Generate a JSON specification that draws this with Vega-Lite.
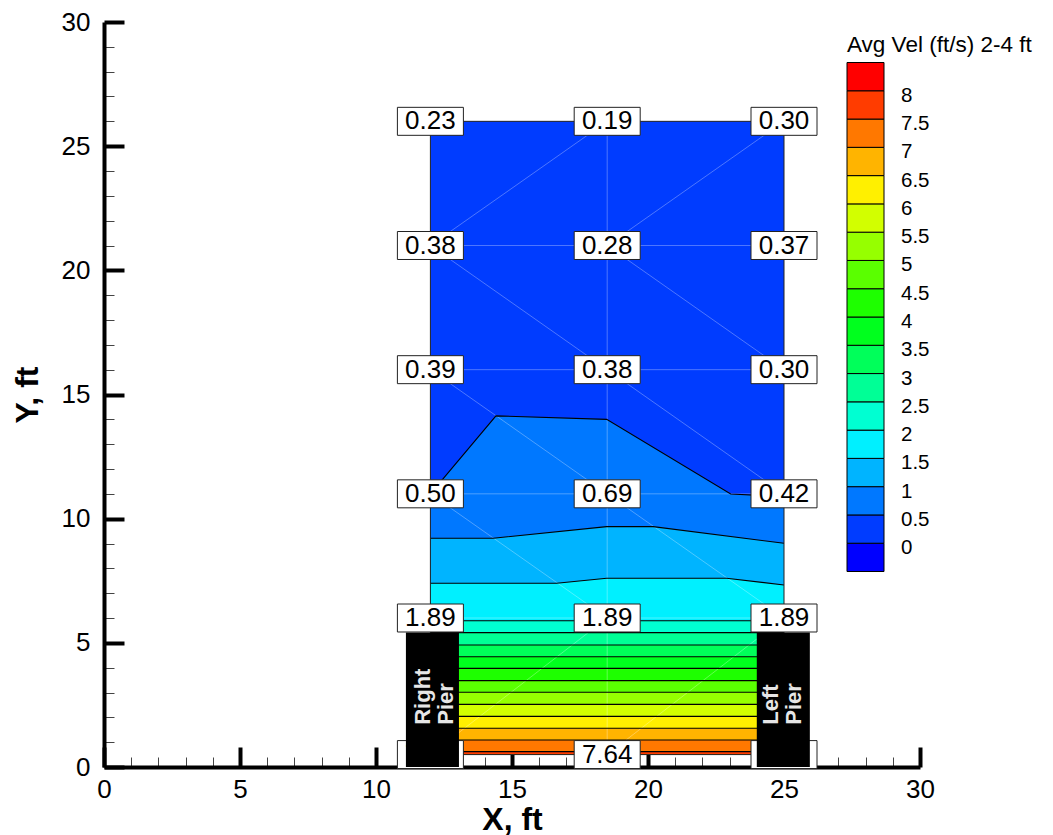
{
  "$schema": "https://vega.github.io/schema/vega-lite/v6.json",
  "width": 816,
  "height": 745,
  "autosize": "none",
  "padding": {"left": 104, "top": 22, "right": 133, "bottom": 68},
  "background": "white",
  "config": {
    "font": "Liberation Sans",
    "view": {"stroke": null},
    "axis": {"grid": false}
  },
  "resolve": {"axis": {"x": "independent", "y": "independent"}},
  "datasets": {
    "contours": [
      {"lev": 0, "mid": 0.25, "x": 12, "y": 26},
      {"lev": 0, "mid": 0.25, "x": 25, "y": 26},
      {"lev": 0.5, "mid": 0.75, "x": 12, "y": 11.0},
      {"lev": 0.5, "mid": 0.75, "x": 14.41, "y": 14.14},
      {"lev": 0.5, "mid": 0.75, "x": 18.48, "y": 14.0},
      {"lev": 0.5, "mid": 0.75, "x": 23.04, "y": 10.99},
      {"lev": 0.5, "mid": 0.75, "x": 25, "y": 10.89},
      {"lev": 1, "mid": 1.25, "x": 12, "y": 9.21},
      {"lev": 1, "mid": 1.25, "x": 14.31, "y": 9.21},
      {"lev": 1, "mid": 1.25, "x": 18.48, "y": 9.68},
      {"lev": 1, "mid": 1.25, "x": 20.19, "y": 9.68},
      {"lev": 1, "mid": 1.25, "x": 25, "y": 9.01},
      {"lev": 1.5, "mid": 1.75, "x": 12, "y": 7.40},
      {"lev": 1.5, "mid": 1.75, "x": 16.64, "y": 7.40},
      {"lev": 1.5, "mid": 1.75, "x": 18.48, "y": 7.60},
      {"lev": 1.5, "mid": 1.75, "x": 22.89, "y": 7.60},
      {"lev": 1.5, "mid": 1.75, "x": 25, "y": 7.33},
      {"lev": 2, "mid": 2.25, "x": 12, "y": 5.89},
      {"lev": 2, "mid": 2.25, "x": 25, "y": 5.89},
      {"lev": 2.5, "mid": 2.75, "x": 12, "y": 5.41},
      {"lev": 2.5, "mid": 2.75, "x": 25, "y": 5.41},
      {"lev": 3, "mid": 3.25, "x": 12, "y": 4.91},
      {"lev": 3, "mid": 3.25, "x": 25, "y": 4.91},
      {"lev": 3.5, "mid": 3.75, "x": 12, "y": 4.44},
      {"lev": 3.5, "mid": 3.75, "x": 25, "y": 4.44},
      {"lev": 4, "mid": 4.25, "x": 12, "y": 3.97},
      {"lev": 4, "mid": 4.25, "x": 25, "y": 3.97},
      {"lev": 4.5, "mid": 4.75, "x": 12, "y": 3.48},
      {"lev": 4.5, "mid": 4.75, "x": 25, "y": 3.48},
      {"lev": 5, "mid": 5.25, "x": 12, "y": 3.01},
      {"lev": 5, "mid": 5.25, "x": 25, "y": 3.01},
      {"lev": 5.5, "mid": 5.75, "x": 12, "y": 2.52},
      {"lev": 5.5, "mid": 5.75, "x": 25, "y": 2.52},
      {"lev": 6, "mid": 6.25, "x": 12, "y": 2.04},
      {"lev": 6, "mid": 6.25, "x": 25, "y": 2.04},
      {"lev": 6.5, "mid": 6.75, "x": 12, "y": 1.56},
      {"lev": 6.5, "mid": 6.75, "x": 25, "y": 1.56},
      {"lev": 7, "mid": 7.25, "x": 12, "y": 1.09},
      {"lev": 7, "mid": 7.25, "x": 25, "y": 1.09},
      {"lev": 7.5, "mid": 7.75, "x": 12, "y": 0.62},
      {"lev": 7.5, "mid": 7.75, "x": 25, "y": 0.62}
    ],
    "mesh": [
      {"x": 12, "y": 21, "x2": 25, "y2": 21},
      {"x": 12, "y": 16, "x2": 25, "y2": 16},
      {"x": 12, "y": 11, "x2": 25, "y2": 11},
      {"x": 12, "y": 6, "x2": 25, "y2": 6},
      {"x": 18.5, "y": 0.5, "x2": 18.5, "y2": 26},
      {"x": 12, "y": 21, "x2": 18.5, "y2": 26},
      {"x": 18.5, "y": 21, "x2": 25, "y2": 26},
      {"x": 12, "y": 21, "x2": 18.5, "y2": 16},
      {"x": 18.5, "y": 21, "x2": 25, "y2": 16},
      {"x": 12, "y": 16, "x2": 18.5, "y2": 11},
      {"x": 18.5, "y": 16, "x2": 25, "y2": 11},
      {"x": 12, "y": 11, "x2": 18.5, "y2": 6},
      {"x": 18.5, "y": 11, "x2": 25, "y2": 6},
      {"x": 12, "y": 0.5, "x2": 18.5, "y2": 6},
      {"x": 18.5, "y": 0.5, "x2": 25, "y2": 6}
    ],
    "domainbox": [{"x": 12, "x2": 25, "y": 0.5, "y2": 26}],
    "labels": [
      {"x": 12, "y": 26, "t": "0.23"}, {"x": 18.5, "y": 26, "t": "0.19"}, {"x": 25, "y": 26, "t": "0.30"},
      {"x": 12, "y": 21, "t": "0.38"}, {"x": 18.5, "y": 21, "t": "0.28"}, {"x": 25, "y": 21, "t": "0.37"},
      {"x": 12, "y": 16, "t": "0.39"}, {"x": 18.5, "y": 16, "t": "0.38"}, {"x": 25, "y": 16, "t": "0.30"},
      {"x": 12, "y": 11, "t": "0.50"}, {"x": 18.5, "y": 11, "t": "0.69"}, {"x": 25, "y": 11, "t": "0.42"},
      {"x": 12, "y": 6, "t": "1.89"}, {"x": 18.5, "y": 6, "t": "1.89"}, {"x": 25, "y": 6, "t": "1.89"},
      {"x": 12, "y": 0.5, "t": "7.60"}, {"x": 18.5, "y": 0.5, "t": "7.64"}, {"x": 25, "y": 0.5, "t": "7.58"}
    ],
    "piers": [
      {"x": 11.1, "x2": 13.05, "y": 0, "y2": 5.42},
      {"x": 24.0, "x2": 25.95, "y": 0, "y2": 5.42}
    ],
    "piertext": [
      {"x": 11.73, "y": 1.7, "name": "Right\nPier"},
      {"x": 24.52, "y": 1.7, "name": "Left\nPier"}
    ]
  },
  "layer": [
    {
      "data": {"name": "contours"},
      "mark": {"type": "area", "interpolate": "linear"},
      "encoding": {
        "x": {
          "field": "x", "type": "quantitative",
          "scale": {"domain": [0, 30], "nice": false, "zero": false},
          "axis": {
            "orient": "bottom",
            "values": [0,1,2,3,4,5,6,7,8,9,10,11,12,13,14,15,16,17,18,19,20,21,22,23,24,25,26,27,28,29,30],
            "title": "X, ft", "titleFontSize": 32, "titleFontWeight": "bold", "titleColor": "black", "titlePadding": -8,
            "domainColor": "black", "domainWidth": 4,
            "tickColor": {"condition": {"test": "datum.value % 5 === 0", "value": "black"}, "value": "#444"},
            "tickSize": {"condition": {"test": "datum.value % 5 === 0", "value": -20}, "value": -10},
            "tickWidth": {"condition": {"test": "datum.value % 5 === 0", "value": 4}, "value": 1},
            "labelExpr": "datum.value % 5 === 0 ? datum.label : ''",
            "labelFontSize": 26, "labelColor": "black", "labelPadding": 29,
            "labelFlush": false, "labelOverlap": false, "grid": false
          }
        },
        "y": {
          "field": "y", "type": "quantitative", "stack": null,
          "scale": {"domain": [0, 30], "nice": false, "zero": false},
          "axis": {
            "orient": "left",
            "values": [0,1,2,3,4,5,6,7,8,9,10,11,12,13,14,15,16,17,18,19,20,21,22,23,24,25,26,27,28,29,30],
            "title": "Y, ft", "titleFontSize": 32, "titleFontWeight": "bold", "titleColor": "black", "titlePadding": 17,
            "domainColor": "black", "domainWidth": 4,
            "tickColor": {"condition": {"test": "datum.value % 5 === 0", "value": "black"}, "value": "#444"},
            "tickSize": {"condition": {"test": "datum.value % 5 === 0", "value": -20}, "value": -10},
            "tickWidth": {"condition": {"test": "datum.value % 5 === 0", "value": 4}, "value": 1},
            "labelExpr": "datum.value % 5 === 0 ? datum.label : ''",
            "labelFontSize": 26, "labelColor": "black", "labelPadding": 34,
            "labelFlush": false, "labelOverlap": false, "grid": false
          }
        },
        "y2": {"datum": 0.5},
        "detail": {"field": "lev"},
        "color": {
          "field": "mid", "type": "quantitative",
          "scale": {
            "type": "threshold",
            "domain": [0, 0.5, 1, 1.5, 2, 2.5, 3, 3.5, 4, 4.5, 5, 5.5, 6, 6.5, 7, 7.5, 8],
            "range": ["#0000ff","#003cff","#0078ff","#00b4ff","#00f0ff","#00ffd2","#00ff96","#00ff5a","#00ff1e","#1eff00","#5aff00","#96ff00","#d2ff00","#fff000","#ffb400","#ff7800","#ff3c00","#ff0000"]
          },
          "legend": {
            "type": "gradient", "orient": "none", "legendX": 743, "legendY": 12, "direction": "vertical",
            "title": "Avg Vel (ft/s) 2-4 ft", "titleFontSize": 22.5, "titleFontWeight": "normal", "titleColor": "black",
            "titlePadding": 6, "titleLimit": 400,
            "gradientLength": 509, "gradientThickness": 37,
            "gradientStrokeColor": "black", "gradientStrokeWidth": 1,
            "labelFontSize": 20.5, "labelColor": "black", "labelOffset": 17, "labelOverlap": false, "format": "~g",
            "encode": {"labels": {"update": {"dy": {"value": 5}}}}
          }
        }
      }
    },
    {
      "data": {"name": "mesh"},
      "mark": {"type": "rule", "color": "white", "opacity": 0.3, "strokeWidth": 1},
      "encoding": {
        "x": {"field": "x", "type": "quantitative", "axis": null},
        "y": {"field": "y", "type": "quantitative", "axis": null},
        "x2": {"field": "x2"},
        "y2": {"field": "y2"}
      }
    },
    {
      "data": {"name": "contours"},
      "transform": [{"filter": "datum.lev > 0"}],
      "mark": {"type": "line", "color": "black", "strokeWidth": 1.1},
      "encoding": {
        "x": {"field": "x", "type": "quantitative", "axis": null},
        "y": {"field": "y", "type": "quantitative", "axis": null},
        "detail": {"field": "lev"}
      }
    },
    {
      "data": {"name": "domainbox"},
      "mark": {"type": "rect", "filled": false, "stroke": "#222", "strokeWidth": 1},
      "encoding": {
        "x": {"field": "x", "type": "quantitative", "axis": null},
        "x2": {"field": "x2"},
        "y": {"field": "y", "type": "quantitative", "axis": null},
        "y2": {"field": "y2"}
      }
    },
    {
      "data": {"name": "labels"},
      "transform": [{"filter": "datum.y < 1"}],
      "mark": {"type": "point", "shape": "M-1,-0.424H1V0.424H-1Z", "size": 4356, "filled": true, "fill": "white", "stroke": "#222", "strokeWidth": 1, "opacity": 1},
      "encoding": {
        "x": {"field": "x", "type": "quantitative", "axis": null},
        "y": {"field": "y", "type": "quantitative", "axis": null}
      }
    },
    {
      "data": {"name": "labels"},
      "transform": [{"filter": "datum.y < 1"}],
      "mark": {"type": "text", "fontSize": 26, "color": "black", "align": "center", "baseline": "middle"},
      "encoding": {
        "x": {"field": "x", "type": "quantitative", "axis": null},
        "y": {"field": "y", "type": "quantitative", "axis": null},
        "text": {"field": "t"}
      }
    },
    {
      "data": {"name": "piers"},
      "mark": {"type": "rect", "color": "black"},
      "encoding": {
        "x": {"field": "x", "type": "quantitative", "axis": null},
        "x2": {"field": "x2"},
        "y": {"field": "y", "type": "quantitative", "axis": null},
        "y2": {"field": "y2"}
      }
    },
    {
      "data": {"name": "piertext"},
      "mark": {"type": "text", "fontSize": 22, "fontWeight": "bold", "color": "#e6e6e6", "angle": 270, "align": "left", "baseline": "middle", "lineBreak": "\n", "lineHeight": 23},
      "encoding": {
        "x": {"field": "x", "type": "quantitative", "axis": null},
        "y": {"field": "y", "type": "quantitative", "axis": null},
        "text": {"field": "name"}
      }
    },
    {
      "data": {"name": "labels"},
      "transform": [{"filter": "datum.y > 1"}],
      "mark": {"type": "point", "shape": "M-1,-0.424H1V0.424H-1Z", "size": 4356, "filled": true, "fill": "white", "stroke": "#222", "strokeWidth": 1, "opacity": 1},
      "encoding": {
        "x": {"field": "x", "type": "quantitative", "axis": null},
        "y": {"field": "y", "type": "quantitative", "axis": null}
      }
    },
    {
      "data": {"name": "labels"},
      "transform": [{"filter": "datum.y > 1"}],
      "mark": {"type": "text", "fontSize": 26, "color": "black", "align": "center", "baseline": "middle"},
      "encoding": {
        "x": {"field": "x", "type": "quantitative", "axis": null},
        "y": {"field": "y", "type": "quantitative", "axis": null},
        "text": {"field": "t"}
      }
    }
  ]
}
